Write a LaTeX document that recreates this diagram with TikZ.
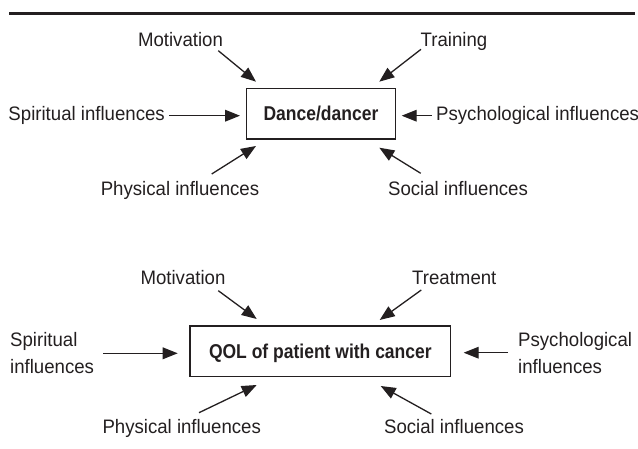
\documentclass[tikz,border=0pt]{standalone}
\usepackage{fontspec}
\usetikzlibrary{arrows.meta}
\newfontfamily\lblfont{Liberation Sans}[FakeStretch=0.955]
\newfontfamily\boxfont{Liberation Sans}[FakeStretch=0.875]
\definecolor{ink}{HTML}{231F20}
\begin{document}
\begin{tikzpicture}[x=1pt,y=-1pt,
  lbl/.style={font=\lblfont\fontsize{19.5}{26.7}\selectfont, inner sep=0pt, text=ink},
  arr/.style={draw=ink, line width=1.3pt, -{Triangle[length=15pt,width=11.7pt]}},
  mainbox/.style={draw=ink, line width=1.4pt, inner sep=0pt, minimum height=50.7pt,
    font=\boxfont\bfseries\fontsize{20}{24}\selectfont, text=ink,
    text height=14.3pt, text depth=0pt}]
\useasboundingbox (0,0) rectangle (638,449);
% top rule
\coordinate (rl) at (9.3,13.8);
\coordinate (rr) at (635,13.8);
\draw[ink, line width=3pt] (rl) -- (rr);

% ---------- panel 1 ----------
\node[mainbox, minimum width=149pt] (box1) at (321,113.7) {Dance/dancer};
\node[lbl, anchor=base] (mot1) at (180.5,46.7) {Motivation};
\node[lbl, anchor=base] (tra1) at (454,46.7) {Training};
\node[lbl, anchor=base east] (spi1) at (165,121) {Spiritual influences};
\node[lbl, anchor=base west] (psy1) at (436,121) {Psychological influences};
\node[lbl, anchor=base] (phy1) at (180,196) {Physical influences};
\node[lbl, anchor=base] (soc1) at (458,196) {Social influences};

\coordinate (m1s) at (218.3,50.7);  \coordinate (m1e) at (256,81.7);
\coordinate (t1s) at (421,49.3);    \coordinate (t1e) at (379.3,81.7);
\coordinate (s1s) at (169.3,115.7); \coordinate (s1e) at (240,115.7);
\coordinate (p1s) at (431.7,115.7); \coordinate (p1e) at (401.7,115.7);
\coordinate (h1s) at (211.7,174);   \coordinate (h1e) at (256,146);
\coordinate (o1s) at (420.7,173.3); \coordinate (o1e) at (379.3,147.7);
\draw[arr] (m1s) -- (m1e);
\draw[arr] (t1s) -- (t1e);
\draw[arr] (s1s) -- (s1e);
\draw[arr] (p1s) -- (p1e);
\draw[arr] (h1s) -- (h1e);
\draw[arr] (o1s) -- (o1e);

% ---------- panel 2 ----------
\node[mainbox, minimum width=260.7pt] (box2) at (320.35,351.35) {QOL of patient with cancer};
\node[lbl, anchor=base] (mot2) at (183,285) {Motivation};
\node[lbl, anchor=base] (tre2) at (454.3,285) {Treatment};
\node[lbl, anchor=base west, align=left] (spi2) at (10,373.3) {Spiritual\\influences};
\node[lbl, anchor=base west, align=left] (psy2) at (518,373.3) {Psychological\\influences};
\node[lbl, anchor=base] (phy2) at (181.7,433.5) {Physical influences};
\node[lbl, anchor=base] (soc2) at (454,433.5) {Social influences};

\coordinate (m2s) at (218.3,290.7); \coordinate (m2e) at (256.7,319);
\coordinate (t2s) at (421.3,290);   \coordinate (t2e) at (379.7,320);
\coordinate (s2s) at (103.3,353.3); \coordinate (s2e) at (177.7,353.3);
\coordinate (p2s) at (508,352.7);   \coordinate (p2e) at (463.7,352.7);
\coordinate (h2s) at (199,412.7);   \coordinate (h2e) at (256.7,385);
\coordinate (o2s) at (431.3,414);   \coordinate (o2e) at (380.7,386);
\draw[arr] (m2s) -- (m2e);
\draw[arr] (t2s) -- (t2e);
\draw[arr] (s2s) -- (s2e);
\draw[arr] (p2s) -- (p2e);
\draw[arr] (h2s) -- (h2e);
\draw[arr] (o2s) -- (o2e);
\end{tikzpicture}
\end{document}
